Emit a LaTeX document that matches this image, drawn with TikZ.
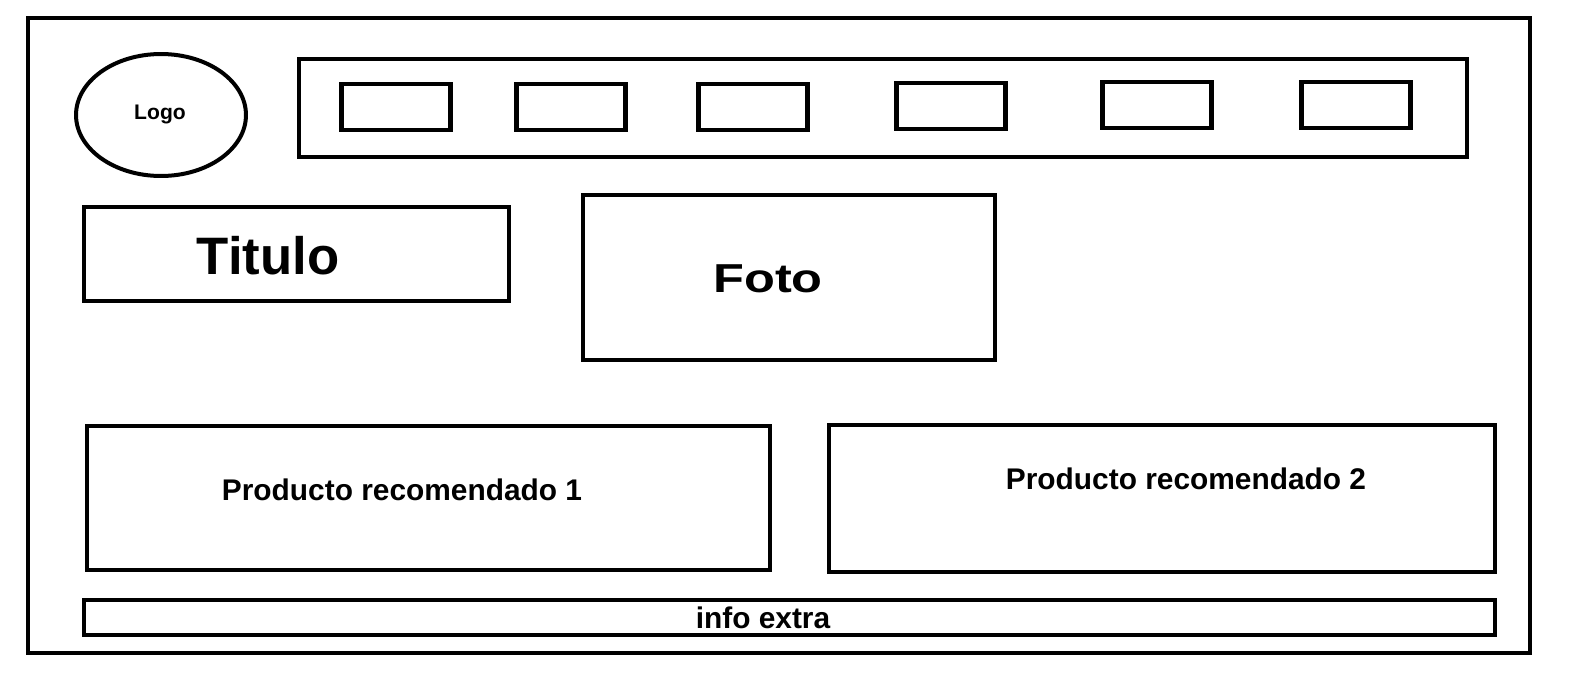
\documentclass[tikz,border=0pt]{standalone}
\usepackage{fontspec}
\setmainfont{Liberation Sans}
\usetikzlibrary{positioning, shapes.geometric}

\begin{document}
\begin{tikzpicture}[x=0.02cm, y=-0.02cm,
		box/.style={draw, rectangle, line width=0.09cm, inner sep=0pt},
		btn/.style={box, minimum width=2.18cm, minimum height=0.92cm},
		lbl/.style={inner sep=0pt, font=\bfseries\fontsize{17}{20}\selectfont}]
		\useasboundingbox (0,0) rectangle (1594,690);
		%frame and header
		\node[box, minimum width=30.04cm, minimum height=12.7cm] (frame) at (779,335.5) {};
		\node[draw, ellipse, line width=0.08cm, inner sep=0pt, minimum width=3.4cm, minimum height=2.44cm] (logo) at (161,115) {};
		\node[lbl, font=\bfseries\fontsize{12}{14}\selectfont] (logo-txt) at (160,114) {Logo};
		\node[box, minimum width=23.36cm, minimum height=1.96cm] (nav) at (883,108) {};
		\foreach \bx/\by [count=\i] in {396/107, 571/107, 753/107, 951/106, 1157/105, 1356/105}
			\node[btn] (btn\i) at (\bx,\by) {};
		%content
		\node[box, minimum width=8.5cm, minimum height=1.88cm] (titulo) at (296.5,254) {};
		\node[lbl, font=\bfseries\fontsize{30}{34}\selectfont] (titulo-txt) at (268,256) {Titulo};
		\node[box, minimum width=8.24cm, minimum height=3.3cm] (foto) at (789,277.5) {};
		\node[lbl, font=\bfseries\fontsize{23}{26}\selectfont] (foto-txt) at (768,279) {\scalebox{1.25}[1]{Foto}};
		%products
		\node[box, minimum width=13.66cm, minimum height=2.88cm] (prod1) at (428.5,498) {};
		\node[lbl] (prod1-txt) at (402,490) {Producto recomendado 1};
		\node[box, minimum width=13.32cm, minimum height=2.94cm] (prod2) at (1162,498.5) {};
		\node[lbl] (prod2-txt) at (1186,479) {Producto recomendado 2};
		\node[box, minimum width=28.22cm, minimum height=0.7cm] (info) at (789.5,617.5) {};
		\node[lbl] (info-txt) at (763,618) {info extra};
\end{tikzpicture}
\end{document}
